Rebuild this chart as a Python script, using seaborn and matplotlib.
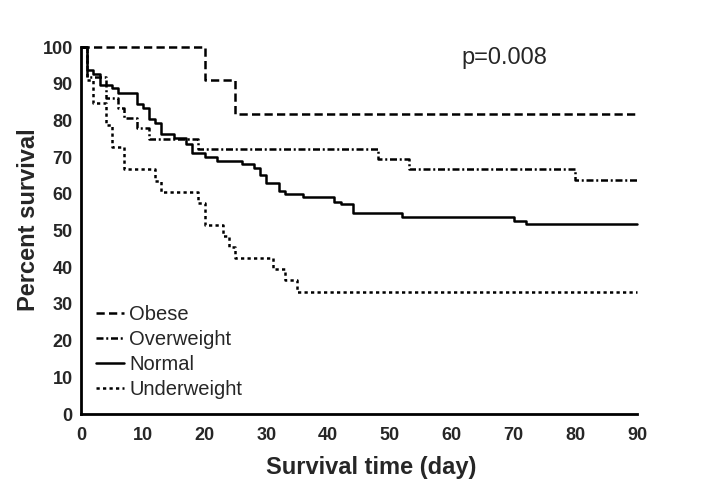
import matplotlib
matplotlib.use("Agg")
import matplotlib.pyplot as plt
import seaborn as sns
import pandas as pd

# Kaplan-Meier step data (time in days, percent survival after the step)
obese_t = [0, 20, 25, 90]
obese_s = [100, 90.9, 81.8, 81.8]

overweight_t = [0, 1, 4, 6, 7, 9, 11, 19, 48, 53, 80, 90]
overweight_s = [100, 91.7, 86.1, 83.3, 80.6, 77.8, 75.0, 72.2, 69.4, 66.7, 63.9, 63.9]

normal_t = [0, 1, 2, 3, 5, 6, 9, 10, 11, 12, 13, 15, 17, 18, 20, 22, 26, 28, 29,
            30, 32, 33, 36, 41, 42, 44, 52, 70, 72, 90]
normal_s = [100, 93.7, 92.6, 89.6, 88.7, 87.6, 84.5, 83.3, 80.3, 79.2, 76.3, 75.3,
            73.7, 71.2, 70.1, 69.0, 68.0, 67.1, 65.1, 62.9, 60.8, 59.9, 59.0, 57.9,
            57.2, 54.9, 53.8, 52.7, 51.8, 51.8]

underweight_t = [0, 1, 2, 4, 5, 7, 12, 13, 19, 20, 23, 24, 25, 31, 33, 35, 90]
underweight_s = [100, 90.9, 84.8, 78.8, 72.7, 66.7, 63.6, 60.6, 57.6, 51.5, 48.5,
                 45.5, 42.4, 39.4, 36.4, 33.3, 33.3]

groups = ["Obese", "Overweight", "Normal", "Underweight"]
x_ticks = [0, 10, 20, 30, 40, 50, 60, 70, 80, 90]
y_ticks = [0, 10, 20, 30, 40, 50, 60, 70, 80, 90, 100]
p_text = "p=0.008"

rows = []
for g, ts, ss in zip(groups, [obese_t, overweight_t, normal_t, underweight_t],
                     [obese_s, overweight_s, normal_s, underweight_s]):
    for t, s in zip(ts, ss):
        rows.append({"time": t, "surv": s, "group": g})
df = pd.DataFrame(rows)

sns.set_style("white")
plt.rcParams["font.family"] = ["Liberation Sans", "DejaVu Sans"]

fig = plt.figure(figsize=(7.27, 4.95), dpi=100)
ax = fig.add_axes([0.1114, 0.1636, 0.765, 0.7414])

dashes = {"Obese": (3.3, 1.7), "Overweight": (2.8, 1.1, 0.8, 1.1),
          "Normal": "", "Underweight": (1.3, 1.3)}
palette = {g: "black" for g in groups}

sns.lineplot(data=df, x="time", y="surv", hue="group", style="group",
             hue_order=groups, style_order=groups, palette=palette,
             dashes=dashes, estimator=None, sort=True, drawstyle="steps-post",
             linewidth=1.8, ax=ax)
for ln in ax.lines:
    ln.set_clip_on(False)

ax.set_xlim(0, 90)
ax.set_ylim(0, 100)
ax.set_xticks(x_ticks)
ax.set_yticks(y_ticks)
for sp in ["top", "right"]:
    ax.spines[sp].set_visible(False)
for sp in ["left", "bottom"]:
    ax.spines[sp].set_linewidth(2.0)
    ax.spines[sp].set_color("black")
ax.tick_params(axis="both", direction="out", length=4, width=2.0,
               color="black", labelsize=13)
ax.tick_params(axis="x", pad=5)
ax.tick_params(axis="y", pad=2)
for lab in ax.get_xticklabels() + ax.get_yticklabels():
    lab.set_fontweight("bold")

ax.set_xlabel("Survival time (day)", fontsize=17, fontweight="bold")
ax.xaxis.set_label_coords(0.522, -0.114)
ax.set_ylabel("Percent survival", fontsize=17, fontweight="bold")
ax.yaxis.set_label_coords(-0.074, 0.53)

ax.text(0.761, 0.97, p_text, transform=ax.transAxes, fontsize=17,
        ha="center", va="center")

handles, labels = ax.get_legend_handles_labels()
ax.legend(handles, labels, loc="lower left", bbox_to_anchor=(0.027, 0.041),
          frameon=False, fontsize=14.5, handlelength=1.4, handletextpad=0.25,
          labelspacing=0.3, borderaxespad=0.0, borderpad=0.0)

fig.savefig("out.png", dpi=100)
